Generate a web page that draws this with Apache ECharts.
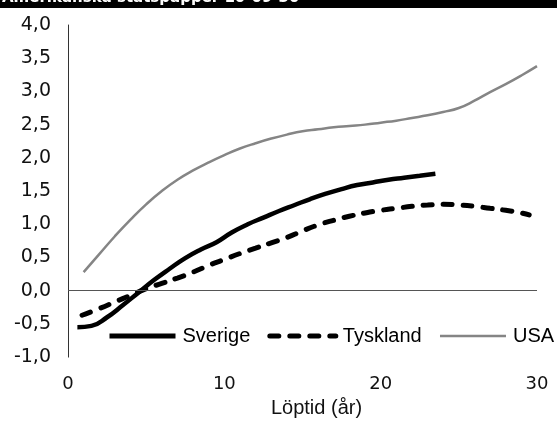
<!DOCTYPE html>
<html>
<head>
<meta charset="utf-8">
<script src="https://cdn.jsdelivr.net/npm/echarts@6/dist/echarts.min.js"></script>
<style>html,body{margin:0;padding:0;background:#fff}#c{width:557px;height:423px}</style>
</head>
<body>
<div id="c"></div>
<script>
const titleText = 'Amerikanska statspapper 10-09-30';
const xName = 'Löptid (år)';
const seriesNames = ['Sverige', 'Tyskland', 'USA'];
const sverige = [[0.6,-0.55],[1.5,-0.53],[2.5,-0.4],[3.5,-0.22],[4.5,-0.03],[5.5,0.16],[6.5,0.33],[7.5,0.49],[8.5,0.62],[9.5,0.73],[10.5,0.88],[11.5,1.0],[12.5,1.1],[13.5,1.2],[14.5,1.29],[15.5,1.38],[16.5,1.46],[17.5,1.53],[18.5,1.59],[19.5,1.63],[20.5,1.67],[21.5,1.7],[22.5,1.73],[23.5,1.76]];
const tyskland = [[0.9,-0.37],[2,-0.27],[3,-0.17],[4,-0.07],[5,0.03],[6,0.11],[7,0.19],[8,0.28],[9,0.38],[10,0.47],[11,0.56],[12,0.64],[13,0.72],[14,0.8],[15,0.9],[16,0.99],[17,1.06],[18,1.12],[19,1.17],[20,1.21],[21,1.24],[22,1.27],[23,1.29],[24,1.3],[25,1.29],[26,1.27],[27,1.24],[28,1.21],[29,1.17],[29.5,1.14]];
const usa = [[1,0.28],[2,0.55],[3,0.82],[4,1.07],[5,1.3],[6,1.5],[7,1.67],[8,1.81],[9,1.93],[10,2.04],[11,2.14],[12,2.22],[13,2.29],[14,2.35],[15,2.4],[16,2.43],[17,2.46],[18,2.48],[19,2.5],[20,2.53],[21,2.56],[22,2.6],[23,2.64],[24,2.69],[25,2.75],[26,2.86],[27,2.99],[28,3.11],[29,3.24],[30,3.38]];

const chart = echarts.init(document.getElementById('c'));
chart.setOption({
  animation: false,
  graphic: [
    {type:'rect', left:0, top:0, shape:{width:557, height:8}, style:{fill:'#000'}, z:10},
    {type:'text', left:2, top:-9, style:{text:titleText, fill:'#fff', font:'bold 15px "DejaVu Sans"'}, z:11}
  ],
  grid: {left:68, right:20, top:25, bottom:59, containLabel:false},
  legend: {
    left: 107, top: 326, width: 450, padding: 0,
    itemWidth: 66, itemHeight: 14, itemGap: 17,
    itemStyle: {opacity: 0},
    textStyle: {fontFamily:'Liberation Sans', fontSize:20, color:'#000', padding:[0,0,0,2]},
    data: [
      {name: seriesNames[0], lineStyle: {width: 5}},
      {name: seriesNames[1], lineStyle: {width: 5}},
      {name: seriesNames[2], lineStyle: {width: 2.5}}
    ]
  },
  xAxis: {
    type:'value', min:0, max:30, interval:10,
    axisLine:{show:false, onZero:false}, axisTick:{show:false}, splitLine:{show:false},
    axisLabel:{fontFamily:'DejaVu Sans', fontSize:18, color:'#111', margin:18},
    name: xName, nameLocation:'middle', nameGap:38,
    nameTextStyle:{fontFamily:'Liberation Sans', fontSize:20, color:'#111', padding:[0,0,0,28]}
  },
  yAxis: {
    type:'value', min:-1, max:4, interval:0.5,
    axisLine:{show:true, lineStyle:{color:'#333', width:1}},
    axisTick:{show:false}, splitLine:{show:false},
    axisLabel:{fontFamily:'DejaVu Sans', fontSize:19, color:'#111', margin:17,
      formatter: v => v.toFixed(1).replace('.', ',')}
  },
  series: [
    {name:seriesNames[0], type:'line', data:sverige, smooth:true, showSymbol:false, symbol:'none',
     lineStyle:{color:'#000', width:4.5}, itemStyle:{color:'#000'},
     markLine:{silent:true, symbol:'none', label:{show:false},
       lineStyle:{color:'#555', width:1, type:'solid'}, data:[{yAxis:0}]}},
    {name:seriesNames[1], type:'line', data:tyskland, smooth:true, showSymbol:false, symbol:'none',
     lineStyle:{color:'#000', width:5, type:[9,11], cap:'round'}, itemStyle:{color:'#000'}},
    {name:seriesNames[2], type:'line', data:usa, smooth:true, showSymbol:false, symbol:'none',
     lineStyle:{color:'#858585', width:2.5}, itemStyle:{color:'#858585'}}
  ]
});
</script>
</body>
</html>
